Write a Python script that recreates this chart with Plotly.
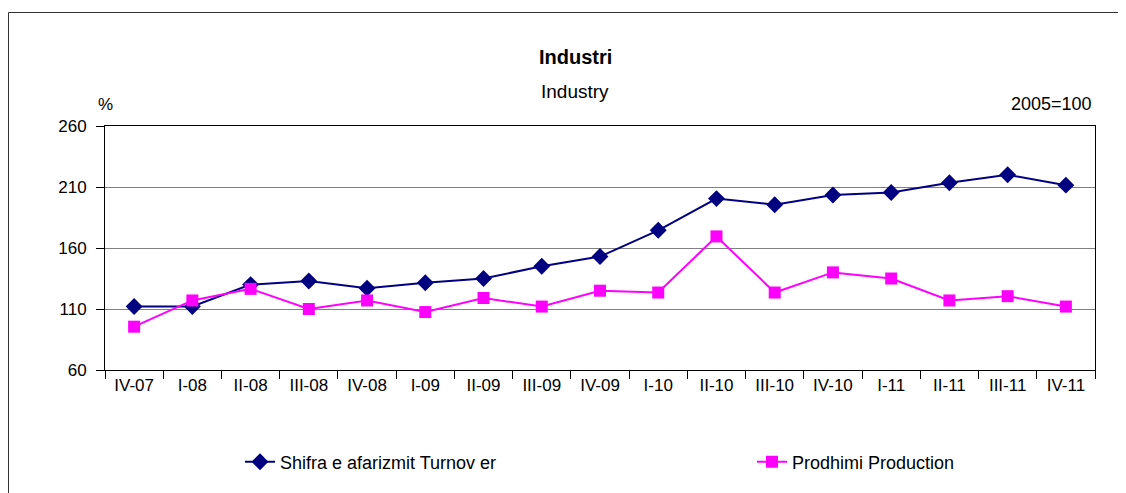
import plotly.graph_objects as go

categories = ["IV-07", "I-08", "II-08", "III-08", "IV-08", "I-09", "II-09", "III-09", "IV-09",
              "I-10", "II-10", "III-10", "IV-10", "I-11", "II-11", "III-11", "IV-11"]
turnover = [112, 112, 130, 133, 127, 131.5, 135, 145, 153, 174.5, 200.5, 195.5, 203.5, 205.5, 213.5, 220, 211.5]
production = [95.5, 117, 126.5, 110, 117, 107.5, 119, 112, 125, 123.5, 169.5, 123.5, 140, 135, 117, 120.5, 112]
y_ticks = [60, 110, 160, 210, 260]

FONT = "Liberation Sans Narrow, Arial Narrow, Liberation Sans, Arial, sans-serif"
OFF = 8  # page body margin
W, H = 1126 - OFF, 493 - OFF
# plot area in page pixels: x 105..1095, y 126..370
PL, PR, PT, PB = 105, 1095, 126, 370
L, T = PL - OFF, PT - OFF
R, B = W - (PR - OFF), H - (PB - OFF)
pw, ph = PR - PL, PB - PT

def px_x(p):
    return (p - PL) / pw

def px_y(p):
    return (PB - p) / ph

fig = go.Figure()
fig.add_trace(go.Scatter(
    x=categories, y=turnover, mode="lines+markers", name="Shifra e afarizmit Turnov er",
    line=dict(color="#000080", width=2),
    marker=dict(symbol="diamond", size=13, color="#000080"),
    legend="legend",
))
fig.add_trace(go.Scatter(
    x=categories, y=production, mode="lines+markers", name="Prodhimi Production",
    line=dict(color="#FF00FF", width=2),
    marker=dict(symbol="square", size=12, color="#FF00FF"),
    legend="legend2",
))

fig.update_layout(
    width=W, height=H,
    margin=dict(l=L, r=R, t=T, b=B, autoexpand=False),
    paper_bgcolor="white", plot_bgcolor="white",
    font=dict(family=FONT, size=16, color="#000000"),
    showlegend=True,
    legend=dict(x=px_x(240), y=px_y(462), xanchor="left", yanchor="middle",
                orientation="h", font=dict(size=18), bgcolor="rgba(0,0,0,0)"),
    legend2=dict(x=px_x(752), y=px_y(462), xanchor="left", yanchor="middle",
                 orientation="h", font=dict(size=18), bgcolor="rgba(0,0,0,0)"),
    xaxis=dict(
        type="category", showgrid=False, showline=True, linecolor="#000000", linewidth=1,
        mirror=True, ticks="outside", tickson="boundaries", ticklen=8, tickcolor="#000000",
        tickfont=dict(size=17), range=[-0.5, len(categories) - 0.5],
    ),
    yaxis=dict(
        range=[60, 260], tickvals=y_ticks, showgrid=True, gridcolor="#808080", gridwidth=1,
        showline=True, linecolor="#000000", linewidth=1, mirror=True,
        ticks="outside", ticklen=8, tickcolor="#000000", tickfont=dict(size=17), zeroline=False,
        ticklabelstandoff=6,
    ),
    annotations=[
        dict(text="<b>Industri</b>", x=px_x(575), y=px_y(57), xref="paper", yref="paper",
             showarrow=False, xanchor="center", yanchor="middle", font=dict(size=20)),
        dict(text="Industry", x=px_x(575), y=px_y(92), xref="paper", yref="paper",
             showarrow=False, xanchor="center", yanchor="middle", font=dict(size=19)),
        dict(text="%", x=px_x(96), y=px_y(104), xref="paper", yref="paper",
             showarrow=False, xanchor="left", yanchor="middle", font=dict(size=17)),
        dict(text="2005=100", x=px_x(1094), y=px_y(104), xref="paper", yref="paper",
             showarrow=False, xanchor="right", yanchor="middle", font=dict(size=18)),
    ],
    shapes=[
        dict(type="rect", xref="paper", yref="paper",
             x0=px_x(OFF + 0.5), x1=px_x(1140), y0=px_y(510), y1=px_y(12.5),
             line=dict(color="#333333", width=1), fillcolor="rgba(0,0,0,0)", layer="below"),
    ],
)

fig.write_html("out.html")
